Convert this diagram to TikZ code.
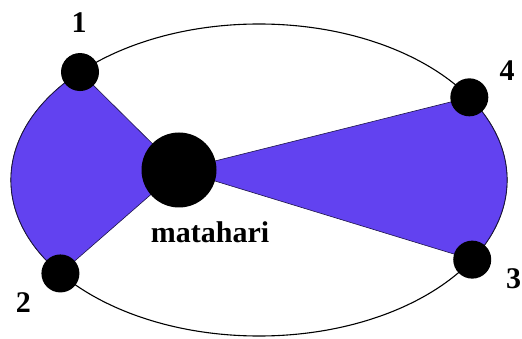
\documentclass[tikz,border=0pt]{standalone}
\usepackage{fontspec}
\setmainfont{Liberation Serif}
\definecolor{sector}{RGB}{98,66,240}
\begin{document}
\begin{tikzpicture}[x=1pt,y=-1pt,
  planet/.style={circle,fill=black,inner sep=0pt,minimum size=38pt},
  sun/.style={circle,fill=black,inner sep=0pt,minimum size=75pt},
  lbl/.style={font=\fontsize{30}{36}\selectfont\bfseries,inner sep=0pt,anchor=base},
  area/.style={fill=sector,draw=black!70!sector,line width=0.6pt},
  orbit/.style={draw=black,line width=1.1pt}]
\useasboundingbox (0,0) rectangle (522,339);
\begin{scope}[shift={(259,180)}]
  \coordinate (c) at (0,0);
  \coordinate (p1) at (223.8:248 and 156);
  \coordinate (p2) at (143.2:248 and 156);
  \coordinate (p3) at (30.7:248 and 156);
  \coordinate (p4) at (-32:248 and 156);
  \coordinate (s) at (-80,-10);
  \draw[orbit] (c) ellipse [x radius=248, y radius=156];
  \path[area] (s) -- (p1) arc[start angle=223.8, end angle=143.2, x radius=248, y radius=156] -- cycle;
  \path[area] (s) -- (p4) arc[start angle=-32, end angle=30.7, x radius=248, y radius=156] -- cycle;
  \node[planet] (n1) at (p1) {};
  \node[planet] (n2) at (p2) {};
  \node[planet] (n3) at (p3) {};
  \node[planet] (n4) at (p4) {};
  \node[sun] (m) at (s) {};
\end{scope}
\node[lbl] (l1) at (79,33) {1};
\node[lbl] (l2) at (23.5,312) {2};
\node[lbl] (l3) at (513.5,288) {3};
\node[lbl] (l4) at (507,81) {4};
\node[lbl] (lm) at (210,242) {matahari};
\end{tikzpicture}
\end{document}
